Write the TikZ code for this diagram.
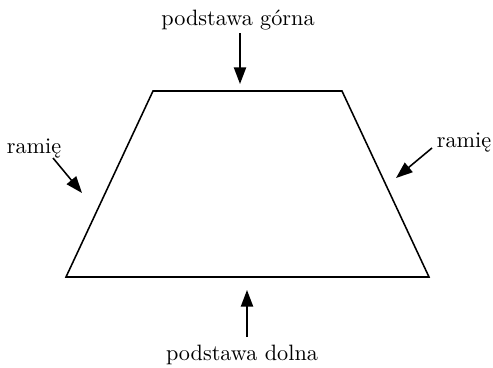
\documentclass[tikz,border=0pt]{standalone}
\usetikzlibrary{arrows.meta}

\begin{document}
\begin{tikzpicture}[x=0.45pt,y=-0.45pt,
    lbl/.style={font=\normalsize,inner sep=0pt},
    pointer/.style={-{Triangle[length=7.5pt,width=5.5pt]},line width=0.7pt}]
  \useasboundingbox (0,0) rectangle (493,368);
  % trapezoid corners
  \coordinate (tl) at (153,91);
  \coordinate (tr) at (342,91);
  \coordinate (br) at (429,277);
  \coordinate (bl) at (66,277);
  \draw[line width=0.7pt] (tl)--(tr)--(br)--(bl)--cycle;
  % labels
  \node[lbl,anchor=base] (gorna) at (238,25){podstawa górna};
  \node[lbl,anchor=base] (dolna) at (242,360){podstawa dolna};
  \node[lbl,anchor=base] (ramieL) at (34,153){ramię};
  \node[lbl,anchor=base] (ramieR) at (464,147){ramię};
  % arrow ends
  \coordinate (gornaA) at (240,33);  \coordinate (gornaB) at (240,84);
  \coordinate (dolnaA) at (247,337); \coordinate (dolnaB) at (247,290);
  \coordinate (ramieLA) at (53,158); \coordinate (ramieLB) at (82,193);
  \coordinate (ramieRA) at (432,148); \coordinate (ramieRB) at (396,178);
  \foreach \n in {gorna,dolna,ramieL,ramieR} \draw[pointer] (\n A)--(\n B);
\end{tikzpicture}
\end{document}
